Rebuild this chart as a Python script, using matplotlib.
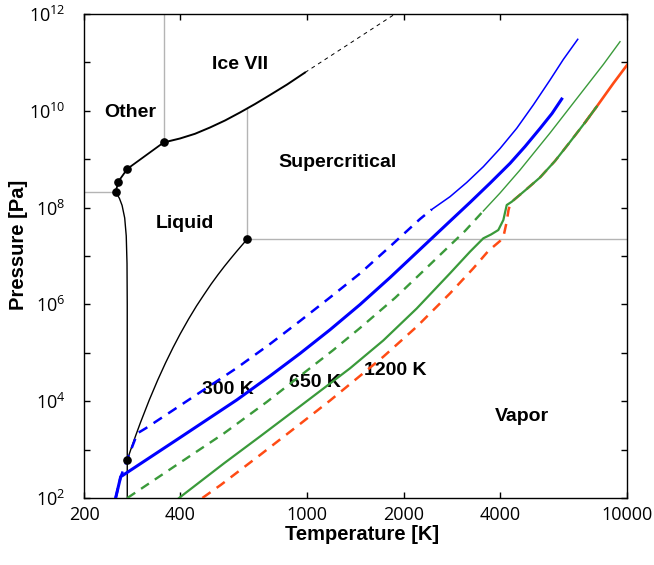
import matplotlib
matplotlib.use("Agg")
import matplotlib.pyplot as plt
from matplotlib.ticker import FixedLocator, NullLocator

plt.rcParams['mathtext.fontset'] = 'custom'
plt.rcParams['mathtext.rm'] = 'Open Sans'
plt.rcParams['mathtext.it'] = 'Open Sans:italic'
plt.rcParams['mathtext.bf'] = 'Open Sans:bold'

# ---------------- data ----------------
x_ticks = [200, 400, 1000, 2000, 4000, 10000]
x_tick_labels = ['200', '400', '1000', '2000', '4000', '10000']
y_ticks = [1e2, 1e3, 1e4, 1e5, 1e6, 1e7, 1e8, 1e9, 1e10, 1e11, 1e12]
y_tick_labels = [r'$\mathregular{10^{2}}$', '', r'$\mathregular{10^{4}}$', '',
                 r'$\mathregular{10^{6}}$', '', r'$\mathregular{10^{8}}$', '',
                 r'$\mathregular{10^{10}}$', '', r'$\mathregular{10^{12}}$']

# phase boundaries
melt_ih_T = [251.2, 253.15, 258.15, 263.15, 268.15, 271.15, 272.65, 273.1, 273.16]
melt_ih_P = [2.099e8, 1.94e8, 1.55e8, 1.11e8, 6.1e7, 2.6e7, 7e6, 1e6, 1e2]

ice_tp_T = [251.2, 256.2, 273.3, 355.0]
ice_tp_P = [2.099e8, 3.46e8, 6.32e8, 2.216e9]

ice7_T = [355.0, 399.5, 445.0, 495.8, 552.5, 615.4, 685.6, 763.9, 863.7, 983.0]
ice7_P = [2.216e9, 2.68e9, 3.35e9, 4.52e9, 6.31e9, 9.23e9, 1.38e10, 2.12e10, 3.49e10, 6.18e10]
ice7_ext_T = [983.0, 1880.0]
ice7_ext_P = [6.18e10, 1e12]

boil_T = [273.16, 280, 290, 300, 320, 340, 360, 380, 400, 425, 450, 475, 500, 525, 550,
          575, 600, 620, 635, 647.1]
boil_P = [611.7, 991.8, 1920, 3537, 1.055e4, 2.719e4, 6.218e4, 1.289e5, 2.458e5, 5.0e5,
          9.32e5, 1.6e6, 2.639e6, 4.1e6, 6.12e6, 8.8e6, 1.235e7, 1.59e7, 1.91e7, 2.206e7]

dots_T = [251.2, 256.2, 273.3, 355.0, 647.1, 273.16]
dots_P = [2.099e8, 3.46e8, 6.32e8, 2.216e9, 2.206e7, 611.7]

# grey guide lines
grey_h1_T = [200, 251.2];     grey_h1_P = [2.099e8, 2.099e8]
grey_v1_T = [355.0, 355.0];   grey_v1_P = [2.216e9, 1e12]
grey_v2_T = [647.1, 647.1];   grey_v2_P = [2.206e7, 1.11e10]
grey_h2_T = [647.1, 10000];   grey_h2_P = [2.206e7, 2.206e7]

# 300 K adiabats (blue)
b_thick_T = [251.2, 260.5, 399.5, 601.0, 763.9, 948.2, 1176.8, 1460.6, 1813.2, 2251, 2794,
             3228, 3727, 4304, 4798, 5343, 5826, 6247]
b_thick_P = [1e2, 275, 1770, 1.06e4, 3.32e4, 9.68e4, 2.99e5, 9.9e5, 3.58e6, 1.37e7, 5.24e7,
             1.28e8, 3.19e8, 8.19e8, 1.83e9, 4.31e9, 8.8e9, 1.75e10]
b_dash_T = [251.2, 260.5, 293.8, 312.0, 399.5, 601.0, 763.9, 948.2, 1176.8, 1460.6, 1813.2,
            2251, 2449]
b_dash_P = [1e2, 275, 2170, 2754, 8110, 4.85e4, 1.52e5, 4.54e5, 1.39e6, 4.35e6, 1.57e7,
            5.81e7, 9.14e7]
b_thin_T = [2449, 2794, 3151, 3552, 4006, 4518, 5091, 5743, 6320, 7012]
b_thin_P = [9.14e7, 1.68e8, 3.30e8, 7.0e8, 1.66e9, 4.35e9, 1.32e10, 4.33e10, 1.15e11, 3.0e11]

# 650 K adiabats (green)
g_dash_T = [273.3, 385.3, 548.5, 745.9, 948.2, 1205, 1460.6, 1880, 2305, 2729, 3113, 3552]
g_dash_P = [1e2, 458, 2172, 9620, 3.32e4, 1.14e5, 3.25e5, 1.36e6, 4.90e6, 1.43e7, 3.29e7,
            8.51e7]
g_thin_T = [3552, 4006, 4627, 5743, 7390, 8432, 9509]
g_thin_P = [8.51e7, 2.0e8, 5.98e8, 3.48e9, 2.96e10, 9.06e10, 2.68e11]
g_thick_T = [396.6, 548.5, 710.8, 948.2, 1359.4, 1728, 2198, 2794, 3228, 3552, 3754, 3957,
             4103, 4153, 4204, 4358, 4798, 5343, 5953, 6632, 7390, 8039]
g_thick_P = [1e2, 521, 1866, 7850, 4.78e4, 1.80e5, 8.23e5, 4.39e6, 1.23e7, 2.32e7, 2.78e7,
             3.44e7, 5.54e7, 7.92e7, 1.13e8, 1.32e8, 2.26e8, 4.19e8, 9.18e8, 2.27e9, 5.73e9,
             1.22e10]

# 1200 K adiabat (orange)
o_dash_T = [469.2, 535.6, 710.8, 948.2, 1176.8, 1409, 1728, 2198, 2794, 3305, 3682, 4006,
            4123, 4204, 4258, 4304, 4358, 4798, 5343, 5953, 6632, 7390, 8039]
o_dash_P = [1e2, 186, 773, 3380, 1.03e4, 2.74e4, 8.3e4, 3.46e5, 1.69e6, 5.57e6, 1.27e7,
            2.04e7, 2.85e7, 5.11e7, 8.91e7, 1.13e8, 1.32e8, 2.26e8, 4.19e8, 9.18e8, 2.27e9,
            5.73e9, 1.22e10]
o_solid_T = [7390, 8039, 9064, 10000]
o_solid_P = [5.73e9, 1.22e10, 3.7e10, 8.8e10]

# ---------------- figure ----------------
fig = plt.figure(figsize=(6.54, 5.65), dpi=100)
ax = fig.add_axes([84/654, 67/565, 543/654, 484/565])
ax.set_xscale('log')
ax.set_yscale('log')

blue = '#0000ff'
green = '#3a9a3a'
orange = '#ff4b14'
grey = '#b4b4b4'

for tx, py in [(grey_h1_T, grey_h1_P), (grey_v1_T, grey_v1_P),
               (grey_v2_T, grey_v2_P), (grey_h2_T, grey_h2_P)]:
    ax.plot(tx, py, color=grey, lw=1.0, zorder=1)

ax.plot(melt_ih_T, melt_ih_P, color='k', lw=1.0, zorder=3)
ax.plot(boil_T, boil_P, color='k', lw=1.0, zorder=3)
ax.plot(ice_tp_T, ice_tp_P, color='k', lw=1.3, zorder=3)
ax.plot(ice7_T, ice7_P, color='k', lw=1.4, zorder=3)
ax.plot(ice7_ext_T, ice7_ext_P, color='k', lw=0.7, dashes=(4, 4), zorder=3)

ax.plot(o_dash_T, o_dash_P, color=orange, lw=1.8, dashes=(4, 3), zorder=4)
ax.plot(o_solid_T, o_solid_P, color=orange, lw=1.9, zorder=4)
ax.plot(g_dash_T, g_dash_P, color=green, lw=1.7, dashes=(4, 3), zorder=5)
ax.plot(g_thin_T, g_thin_P, color=green, lw=1.0, zorder=5)
ax.plot(g_thick_T, g_thick_P, color=green, lw=1.6, zorder=6)
ax.plot(b_dash_T, b_dash_P, color=blue, lw=1.8, dashes=(4, 3), zorder=5)
ax.plot(b_thin_T, b_thin_P, color=blue, lw=1.1, zorder=5)
ax.plot(b_thick_T, b_thick_P, color=blue, lw=2.2, zorder=6)

ax.plot(dots_T, dots_P, 'o', color='k', ms=5.2, zorder=8)

ax.set_xlim(200, 10000)
ax.set_ylim(1e2, 1e12)

ax.xaxis.set_major_locator(FixedLocator(x_ticks))
ax.xaxis.set_minor_locator(NullLocator())
ax.set_xticklabels(x_tick_labels)
ax.yaxis.set_major_locator(FixedLocator(y_ticks))
ax.yaxis.set_minor_locator(NullLocator())
ax.set_yticklabels(y_tick_labels)
ax.tick_params(which='both', direction='in', top=True, right=True,
               length=4.3, width=1.0, labelsize=13)
ax.tick_params(axis='x', pad=5.5)
ax.tick_params(axis='y', pad=13.5)
for lab in ax.get_xticklabels() + ax.get_yticklabels():
    lab.set_fontfamily('Open Sans')
for sp in ax.spines.values():
    sp.set_linewidth(1.0)

lab_font = dict(family='Liberation Sans', weight='bold', fontsize=14)
ax.text(0.0856, 0.7866, 'Other', transform=ax.transAxes, ha='center', va='baseline', **lab_font)
ax.text(0.2873, 0.8857, 'Ice VII', transform=ax.transAxes, ha='center', va='baseline', **lab_font)
ax.text(0.4669, 0.6849, 'Supercritical', transform=ax.transAxes, ha='center', va='baseline', **lab_font)
ax.text(0.1866, 0.5585, 'Liquid', transform=ax.transAxes, ha='center', va='baseline', **lab_font)
ax.text(0.2657, 0.2149, '300 K', transform=ax.transAxes, ha='center', va='baseline', **lab_font)
ax.text(0.4260, 0.2293, '650 K', transform=ax.transAxes, ha='center', va='baseline', **lab_font)
ax.text(0.5727, 0.2541, '1200 K', transform=ax.transAxes, ha='center', va='baseline', **lab_font)
ax.text(0.8060, 0.1591, 'Vapor', transform=ax.transAxes, ha='center', va='baseline', **lab_font)

ax_font = dict(family='Liberation Sans', weight='bold', fontsize=14.5)
fig.text(362/654, 1 - 534/565, 'Temperature [K]', ha='center', va='center', **ax_font)
fig.text(19/654, 1 - 245/565, 'Pressure [Pa]', ha='center', va='center', rotation=90, **ax_font)

fig.savefig('out.png', dpi=100)
